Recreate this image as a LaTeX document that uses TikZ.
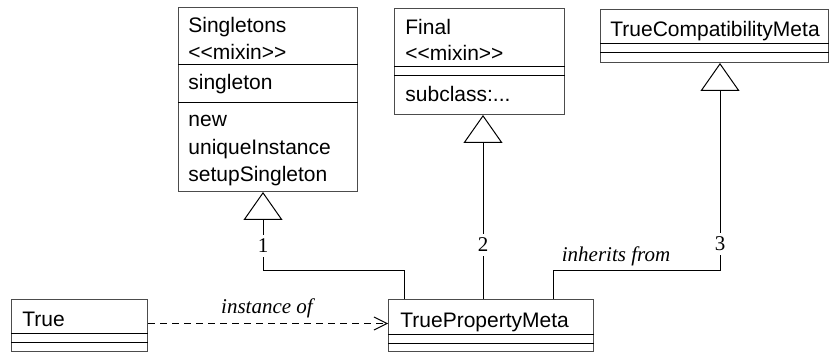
\documentclass[tikz,border=0pt]{standalone}
\usepackage{fontspec}
\setmainfont{Liberation Serif}
\newfontfamily\umlfont{Liberation Sans}
\usepackage{tikz}
\usetikzlibrary{calc, arrows.meta, positioning}
\tikzset{
    classnode/.style = {draw=black!70, rectangle, anchor=north west, inner sep=0em, line width=0.5pt},
    textnode/.style  = {draw=none, fill=none, rectangle, inner sep=0em, anchor=base west,
      font=\fontsize{10.5}{13.5}\umlfont},
    labelnode/.style = {draw=none, fill=none, inner sep=0em, anchor=base,
      font=\fontsize{10.5}{13.5}\selectfont\itshape},
    numnode/.style = {draw=none, fill=white, inner sep=0.2em, font=\fontsize{10.5}{13.5}\selectfont},
    partline/.style = {black, line width=0.5pt},
    inherit/.style = {black, line width=0.5pt, -{Triangle[open, length=14pt, width=19.5pt]}},
    instance/.style = {black, line width=0.5pt, dash pattern=on 3.5pt off 2.5pt,
      -{Straight Barb[length=6.5pt, width=6.5pt]}}
}

\begin{document}
\begin{tikzpicture}[x=0.5pt, y=-0.5pt]
    \useasboundingbox (0,0) rectangle (829,352);

    % class boxes
    \node [classnode, name=Singletons, minimum width=89.5pt, minimum height=92pt] at (178,7) {};
    \node [classnode, name=Final, minimum width=85pt, minimum height=53pt] at (394,8) {};
    \node [classnode, name=Compat, minimum width=114pt, minimum height=26.5pt] at (600,9) {};
    \node [classnode, name=True, minimum width=68pt, minimum height=26pt] at (11,299) {};
    \node [classnode, name=TPM, minimum width=102.5pt, minimum height=26pt] at (388,299) {};

    % compartments
    \foreach \cls/\off in {Singletons/58, Singletons/96, Final/59, Final/68, Compat/35, Compat/44,
        True/34, True/43, TPM/35, TPM/44}
      \draw[partline] ($(\cls.north west)+(0,\off)$) -- ($(\cls.north east)+(0,\off)$);

    % texts
    \node [textnode, name=SingName] at ($(Singletons.north west)+(10,26)$) {Singletons};
    \node [textnode, name=SingStereo] at ($(Singletons.north west)+(10,53)$) {<<mixin>>};
    \node [textnode, name=SingAttr] at ($(Singletons.north west)+(10,83)$) {singleton};
    \node [textnode, name=SingNew] at ($(Singletons.north west)+(10,120)$) {new};
    \node [textnode, name=SingUnique] at ($(Singletons.north west)+(10,147.5)$) {uniqueInstance};
    \node [textnode, name=SingSetup] at ($(Singletons.north west)+(10,175)$) {setupSingleton};

    \node [textnode, name=FinalName] at ($(Final.north west)+(11,27)$) {Final};
    \node [textnode, name=FinalStereo] at ($(Final.north west)+(11,53)$) {<<mixin>>};
    \node [textnode, name=FinalSub] at ($(Final.north west)+(11,94)$) {subclass:...};

    \node [textnode, name=CompatName] at ($(Compat.north west)+(10,28)$) {TrueCompatibilityMeta};
    \node [textnode, name=TrueName] at ($(True.north west)+(11,27)$) {True};
    \node [textnode, name=TPMName] at ($(TPM.north west)+(12,28)$) {TruePropertyMeta};

    % connectors
    \coordinate (bendA) at (263,270);
    \coordinate (bendC) at (720,270);
    \draw[inherit] ($(TPM.north west)+(16,0)$) |- (bendA) -- (bendA |- Singletons.south);
    \draw[inherit] ($(TPM.north west)+(95,0)$) -- ($(Final.south west)+(89,0)$);
    \draw[inherit] ($(TPM.north west)+(165,0)$) |- (bendC) -- (bendC |- Compat.south);
    \draw[instance] ([yshift=1pt]True.east) -- ([yshift=1pt]TPM.west);

    % labels
    \node [numnode, name=numA] at (263,246) {1};
    \node [numnode, name=numB] at (483,245) {2};
    \node [numnode, name=numC] at (720,244) {3};
    \node [labelnode, name=inhLabel] at (616,262) {inherits from};
    \node [labelnode, name=instLabel] at (267,313) {instance of};
\end{tikzpicture}
\end{document}
